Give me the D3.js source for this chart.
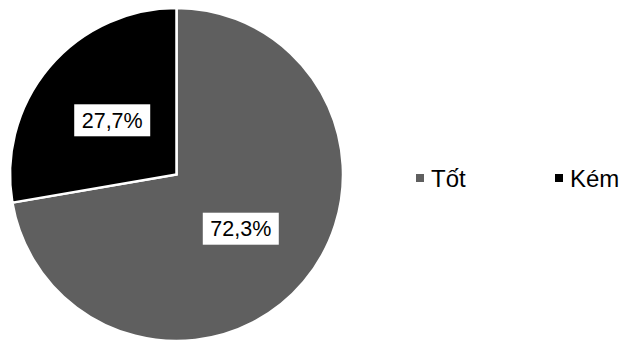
<!DOCTYPE html>
<meta charset="utf-8">
<head>
    <script src="https://d3js.org/d3.v7.min.js"></script>
</head>
<style>
    html, body {
        margin: 0;
        background: #fff;
    }
    text {
        font-family: "Liberation Sans", Arial, sans-serif;
    }
</style>
<body>
<svg width="624" height="340"></svg>
<script>

// chart data
var categories = ["Tốt", "Kém"],
    values = [72.3, 27.7],
    labels = ["72,3%", "27,7%"],
    colors = ["#5f5f5f", "#000000"];

var svg = d3.select("svg"),
    cx = 176.5,
    cy = 174.5,
    radius = 166.5;

var data = categories.map(function(c, i) {
    return {name: c, value: values[i], label: labels[i], color: colors[i]};
});

var pie = d3.pie()
    .sort(null)
    .value(function(d) { return d.value; });

var arc = d3.arc().innerRadius(0).outerRadius(radius);
var labelArc = d3.arc().innerRadius(radius * 0.505).outerRadius(radius * 0.505);

var g = svg.append("g").attr("transform", "translate(" + cx + "," + cy + ")");

var arcs = pie(data);

g.selectAll(".slice")
    .data(arcs)
    .enter().append("path")
    .attr("class", "slice")
    .attr("d", arc)
    .attr("fill", function(d) { return d.data.color; })
    .attr("stroke", "#fff")
    .attr("stroke-width", 2.5);

// data labels with white boxes
var lab = g.selectAll(".lab")
    .data(arcs)
    .enter().append("g")
    .attr("class", "lab")
    .attr("transform", function(d) { return "translate(" + labelArc.centroid(d) + ")"; });

lab.append("rect")
    .attr("x", -38)
    .attr("y", -16)
    .attr("width", 76)
    .attr("height", 32)
    .attr("fill", "#fff");

lab.append("text")
    .attr("text-anchor", "middle")
    .attr("dy", "0.36em")
    .attr("font-size", 21.5)
    .attr("fill", "#000")
    .text(function(d) { return d.data.label; });

// legend
var legendX = d3.scalePoint()
    .domain(categories)
    .range([416, 555]);

var leg = svg.selectAll(".leg")
    .data(data)
    .enter().append("g")
    .attr("class", "leg")
    .attr("transform", function(d) { return "translate(" + legendX(d.name) + ",174)"; });

leg.append("rect")
    .attr("width", 8)
    .attr("height", 8)
    .attr("fill", function(d) { return d.color; });

leg.append("text")
    .attr("x", 15)
    .attr("y", 13)
    .attr("font-size", 24)
    .attr("fill", "#000")
    .text(function(d) { return d.name; });

</script>
</body>
